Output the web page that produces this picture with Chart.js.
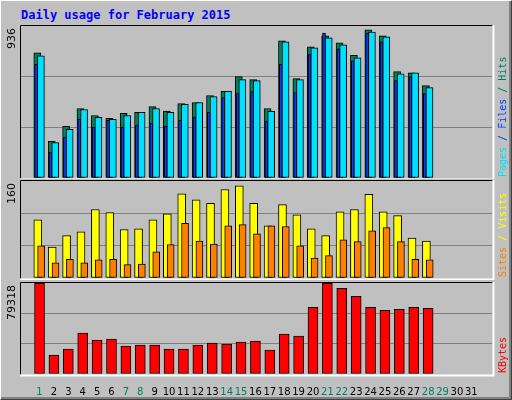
<!DOCTYPE html>
<html><head><meta charset="utf-8">
<script src="https://cdn.jsdelivr.net/npm/chart.js@4"></script>
<style>
body{margin:0;background:#c0c0c0;}
#wrap{position:relative;width:510px;height:398px;background:#c0c0c0;border-top:1px solid #fff;border-left:1px solid #fff;border-right:1px solid #404040;border-bottom:1px solid #404040;box-shadow:inset -2px -2px 0 #808080;}
#title{position:absolute;left:20px;top:7px;font:bold 12px "DejaVu Sans Mono",monospace;color:#0000ff;}
canvas{position:absolute;left:0;}
</style></head><body>
<div id="wrap">
<div id="title">Daily usage for February 2015</div>
<canvas id="c1" width="512" height="166" style="top:12px"></canvas>
<canvas id="c2" width="512" height="100" style="top:179px"></canvas>
<canvas id="c3" width="512" height="122" style="top:279px"></canvas>
</div>
<script>
const days=[1,2,3,4,5,6,7,8,9,10,11,12,13,14,15,16,17,18,19,20,21,22,23,24,25,26,27,28];
const dayLabels=[1,2,3,4,5,6,7,8,9,10,11,12,13,14,15,16,17,18,19,20,21,22,23,24,25,26,27,28,29,30,31];
const weekendDays=[1,7,8,14,15,21,22,28,29];
const hits=[771,226,318,428,385,367,398,404,440,412,459,465,508,534,624,606,428,844,612,808,875,832,755,912,875,655,648,569];
const pagesCyan=[752,218,300,422,373,361,385,404,428,404,453,465,502,534,606,600,410,838,606,801,863,820,740,899,869,642,648,557];
const filesBlue=[700,159,251,361,312,355,312,324,336,318,355,373,404,495,520,532,349,700,526,761,893,795,722,893,838,600,624,520];
const visits=[96,51,70,76,113,108,80,81,96,106,139,129,123,146,152,123,86,121,104,81,70,109,113,138,109,103,66,61];
const sites=[53,25,31,25,30,31,22,23,43,55,90,61,56,86,88,73,86,85,53,33,37,63,60,78,83,60,31,30];
const kbytes=[79318,16500,21700,35600,29500,30400,24300,25200,25200,21700,21700,25200,26900,26100,27800,28700,20800,34700,33000,58200,79000,74700,67700,58200,55600,56400,58200,57300];
const yMax1=936,yMax2=160,yMax3=79318;

const XMIN=0.24,XMAX=31.91;
const pts=(arr,off)=>arr.map((v,i)=>({x:days[i]+off,y:v}));
function frame(label,parts){
  return {id:'frame',afterDraw(c){
    const a=c.chartArea,x=c.ctx;x.save();
    x.strokeStyle='#000';x.lineWidth=1;
    x.beginPath();x.moveTo(a.left-0.5,a.bottom+0.5);x.lineTo(a.left-0.5,a.top-0.5);x.lineTo(a.right+0.5,a.top-0.5);x.stroke();
    x.strokeStyle='#fff';x.lineWidth=2;
    x.beginPath();x.moveTo(a.left-1,a.bottom+1.5);x.lineTo(a.right+1.5,a.bottom+1.5);x.lineTo(a.right+1.5,a.top-1);x.stroke();
    x.fillStyle='#000';x.font='11px "DejaVu Sans"';
    x.translate(a.left-9,a.top+2);x.rotate(-Math.PI/2);x.textAlign='right';x.textBaseline='middle';
    x.fillText(label,0,0);
    x.setTransform(1,0,0,1,0,0);
    x.font='10px "DejaVu Sans Mono"';x.textBaseline='middle';x.textAlign='left';
    x.translate(a.right+11,a.bottom-1);x.rotate(-Math.PI/2);
    let px=0;for(const [t,col] of parts){x.fillStyle=col;x.fillText(t,px,0);px+=x.measureText(t).width;}
    x.restore();
  }};
}
function opts(ymax,padB,showX){
  return {responsive:false,animation:false,
    layout:{padding:{left:20,right:21,top:padB[0],bottom:padB[1]}},
    plugins:{legend:{display:false},tooltip:{enabled:false}},
    scales:{
      x:{type:'linear',min:XMIN,max:XMAX,grid:{display:false},border:{display:false},
        afterBuildTicks:s=>{s.ticks=dayLabels.map(v=>({value:v}));},
        afterFit:s=>{if(!showX)s.height=0;},
        ticks:{display:showX,autoSkip:false,maxRotation:0,padding:4,font:{family:'DejaVu Sans',size:10},
          color:ctx=>weekendDays.includes(ctx.tick.value)?'#008060':'#000'}},
      y:{min:0,max:ymax,display:true,border:{display:false},
        afterFit:s=>{s.width=0;},
        afterBuildTicks:s=>{s.ticks=[0,ymax/3,2*ymax/3,ymax].map(v=>({value:v}));},
        ticks:{display:false},grid:{color:c=>(c.tick.value>0&&c.tick.value<ymax-1)?'#808080':'rgba(0,0,0,0)',lineWidth:1,drawTicks:false}}
    }};
}
const bar=(data,color,w,order)=>({data,backgroundColor:color,borderColor:'#000',borderWidth:1,barThickness:w,order,grouped:false,borderSkipped:false});
new Chart(document.getElementById('c1'),{type:'bar',
  data:{datasets:[bar(pts(pagesCyan,0.094),'#00e0ff',7,0),bar(pts(filesBlue,-0.235),'#0040ff',3,1),bar(pts(hits,-0.155),'#00805c',7,2)]},
  options:opts(yMax1,[13,1],false),
  plugins:[frame(String(yMax1),[['Pages','#00e0ff'],[' / ','#0040ff'],['Files','#0040ff'],[' / ','#00805c'],['Hits','#00805c']])]});
new Chart(document.getElementById('c2'),{type:'bar',
  data:{datasets:[bar(pts(sites,0.11),'#ff8000',7,0),bar(pts(visits,-0.12),'#ffff00',8,1)]},
  options:opts(yMax2,[1,2],false),
  plugins:[frame(String(yMax2),[['Sites','#ff8000'],[' / ','#ffff00'],['Visits','#ffff00']])]});
new Chart(document.getElementById('c3'),{type:'bar',
  data:{datasets:[bar(pts(kbytes,0),'#ff0000',10,0)]},
  options:opts(yMax3,[3,0],true),
  plugins:[frame(String(yMax3),[['KBytes','#ff0000']])]});
</script></body></html>
